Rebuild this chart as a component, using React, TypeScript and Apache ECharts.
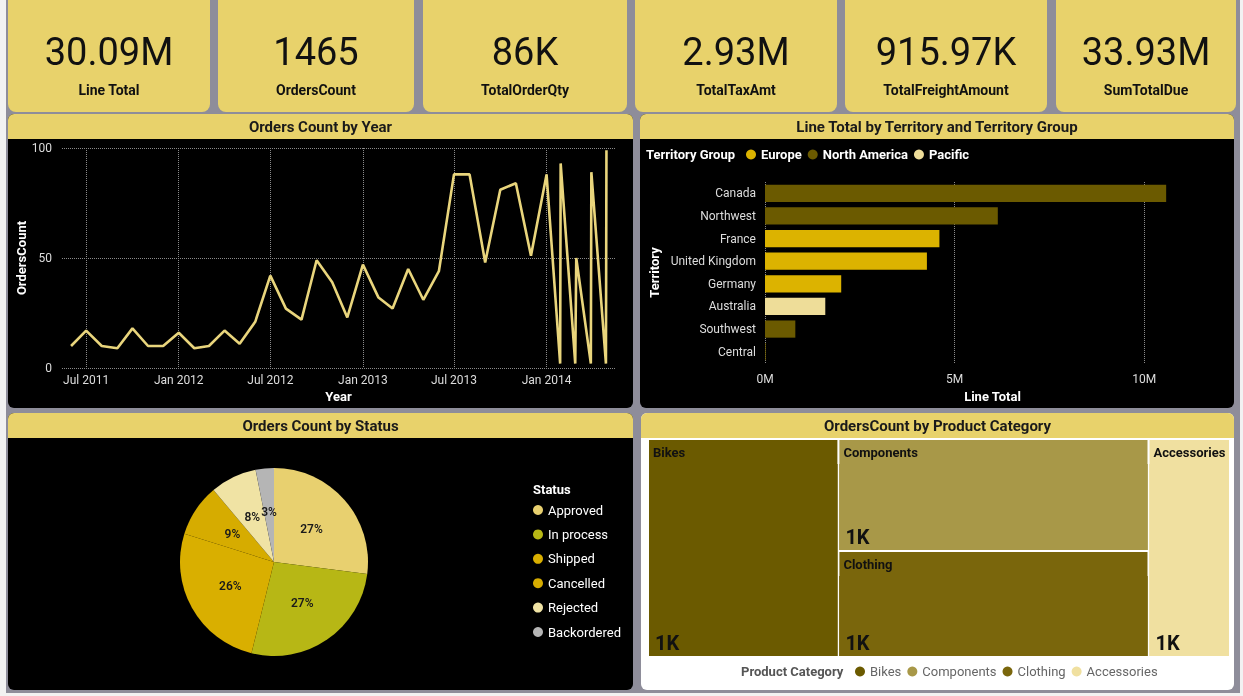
import React, { useEffect, useRef } from 'react';
import * as echarts from 'echarts';

// ---------- DATA ----------
const kpiValues = ['30.09M', '1465', '86K', '2.93M', '915.97K', '33.93M'];
const kpiLabels = ['Line Total', 'OrdersCount', 'TotalOrderQty', 'TotalTaxAmt', 'TotalFreightAmount', 'SumTotalDue'];

const orderDates = [
  '2011-06-01', '2011-07-01', '2011-08-01', '2011-09-01', '2011-10-01', '2011-11-01', '2011-12-01',
  '2012-01-01', '2012-02-01', '2012-03-01', '2012-04-01', '2012-05-01', '2012-06-01', '2012-07-01',
  '2012-08-01', '2012-09-01', '2012-10-01', '2012-11-01', '2012-12-01', '2013-01-01', '2013-02-01',
  '2013-03-01', '2013-04-01', '2013-05-01', '2013-06-01', '2013-07-01', '2013-08-01', '2013-09-01',
  '2013-10-01', '2013-11-01', '2013-12-01', '2014-01-01', '2014-01-28', '2014-01-29', '2014-02-27',
  '2014-03-01', '2014-03-30', '2014-03-31', '2014-04-29', '2014-04-30',
];
const orderCounts = [
  10, 17, 10, 9, 18, 10, 10,
  16, 9, 10, 17, 11, 21, 42,
  27, 22, 49, 39, 23, 47, 32,
  27, 45, 31, 44, 88, 88, 48,
  81, 84, 51, 88, 2, 93, 2,
  50, 2, 89, 2, 99,
];
const yearTickDates = ['2011-07-01', '2012-01-01', '2012-07-01', '2013-01-01', '2013-07-01', '2014-01-01'];
const yearAxisRange = ['2011-05-14', '2014-05-17'];

const territories = ['Canada', 'Northwest', 'France', 'United Kingdom', 'Germany', 'Australia', 'Southwest', 'Central'];
const territoryGroupOf = ['North America', 'North America', 'Europe', 'Europe', 'Europe', 'Pacific', 'North America', 'North America'];
const lineTotals = [10580000, 6140000, 4600000, 4270000, 2010000, 1590000, 800000, 20000];
const territoryGroups = ['Europe', 'North America', 'Pacific'];
const groupColors = ['#DCB300', '#6B5A00', '#EEDD99'];
const lineTotalTicks = [0, 5000000, 10000000];

const statuses = ['Approved', 'In process', 'Shipped', 'Cancelled', 'Rejected', 'Backordered'];
const statusCounts = [396, 393, 381, 132, 117, 46];
const statusColors = ['#E8D06F', '#B7B715', '#D9AF00', '#D6AC00', '#F0E3A4', '#B5B5B5'];

const categories = ['Bikes', 'Components', 'Clothing', 'Accessories'];
const categoryCounts = [1320, 1105, 1045, 565];
const categoryColors = ['#6B5A00', '#A89848', '#7A660C', '#F0E0A0'];

// ---------- HELPERS ----------
const MONTHS = ['Jan', 'Feb', 'Mar', 'Apr', 'May', 'Jun', 'Jul', 'Aug', 'Sep', 'Oct', 'Nov', 'Dec'];
const ts = (s: string) => {
  const [y, m, d] = s.split('-').map(Number);
  return new Date(y, m - 1, d).getTime();
};
const FONT = 'Roboto, "Noto Sans", sans-serif';
const YELLOW = '#E8D26B';

export default function App() {
  const ref = useRef<HTMLDivElement>(null);

  useEffect(() => {
    if (!ref.current) return;
    const chart = echarts.init(ref.current, undefined, { renderer: 'svg' });

    const g: any[] = [];
    g.push({ type: 'rect', silent: true, z: -20, shape: { x: 0, y: 0, width: 1243, height: 696 }, style: { fill: '#f2f2f2' } });
    g.push({ type: 'rect', silent: true, z: -19, shape: { x: 6, y: 0, width: 1234, height: 693 }, style: { fill: '#8E8D9A' } });

    const cardBoxes = [[8, 210], [218, 414], [423, 627], [635, 837], [845, 1047], [1056, 1236]];
    cardBoxes.forEach(([x0, x1], i) => {
      const cx = (x0 + x1) / 2;
      g.push({ type: 'rect', silent: true, z: -18, shape: { x: x0, y: -8, width: x1 - x0, height: 120, r: 8 }, style: { fill: YELLOW } });
      g.push({ type: 'text', silent: true, z: 5, style: { text: kpiValues[i], x: cx, y: 52, align: 'center', verticalAlign: 'middle', fill: '#111', fontSize: 38, fontFamily: FONT, fontWeight: 400 } });
      g.push({ type: 'text', silent: true, z: 5, style: { text: kpiLabels[i], x: cx, y: 90, align: 'center', verticalAlign: 'middle', fill: '#111', fontSize: 14, fontFamily: FONT, fontWeight: 'bold' } });
    });

    const panels = [
      { x: 8, y: 114, w: 625, h: 294, body: '#000', title: 'Orders Count by Year' },
      { x: 640, y: 114, w: 594, h: 294, body: '#000', title: 'Line Total by Territory and Territory Group' },
      { x: 8, y: 413, w: 625, h: 277, body: '#000', title: 'Orders Count by Status' },
      { x: 641, y: 413, w: 593, h: 277, body: '#fff', title: 'OrdersCount by Product Category' },
    ];
    panels.forEach((p) => {
      g.push({ type: 'rect', silent: true, z: -18, shape: { x: p.x, y: p.y, width: p.w, height: p.h, r: 6 }, style: { fill: p.body } });
      g.push({ type: 'rect', silent: true, z: -17, shape: { x: p.x, y: p.y, width: p.w, height: 25, r: [6, 6, 0, 0] }, style: { fill: YELLOW } });
      g.push({ type: 'text', silent: true, z: 5, style: { text: p.title, x: p.x + p.w / 2, y: p.y + 13, align: 'center', verticalAlign: 'middle', fill: '#1a1a1a', fontSize: 15, fontFamily: FONT, fontWeight: 'bold' } });
    });

    g.push({ type: 'text', silent: true, z: 5, style: { text: 'Territory Group', x: 646, y: 154, align: 'left', verticalAlign: 'middle', fill: '#fff', fontSize: 13, fontFamily: FONT, fontWeight: 'bold' } });
    g.push({ type: 'text', silent: true, z: 5, style: { text: 'Status', x: 533, y: 489, align: 'left', verticalAlign: 'middle', fill: '#fff', fontSize: 13, fontFamily: FONT, fontWeight: 'bold' } });
    g.push({ type: 'text', silent: true, z: 5, style: { text: 'Product Category', x: 741, y: 671, align: 'left', verticalAlign: 'middle', fill: '#555', fontSize: 13, fontFamily: FONT, fontWeight: 'bold' } });

    const yearTicks = yearTickDates.map(ts);

    const series: any[] = [];
    series.push({
      type: 'line',
      name: 'OrdersCount',
      xAxisIndex: 0,
      yAxisIndex: 0,
      data: orderDates.map((d, i) => [ts(d), orderCounts[i]]),
      showSymbol: false,
      symbol: 'none',
      lineStyle: { color: '#E9D57C', width: 2.6 },
      itemStyle: { color: '#E9D57C' },
      emphasis: { disabled: true },
    });
    territoryGroups.forEach((grp, gi) => {
      series.push({
        type: 'bar',
        name: grp,
        xAxisIndex: 1,
        yAxisIndex: 1,
        stack: 'territory',
        barCategoryGap: '24%',
        data: territories.map((_, i) => (territoryGroupOf[i] === grp ? lineTotals[i] : '-')),
        itemStyle: { color: groupColors[gi] },
        emphasis: { disabled: true },
      });
    });
    series.push({
      type: 'pie',
      name: 'Status',
      center: [274, 562],
      radius: 94,
      startAngle: 90,
      clockwise: true,
      avoidLabelOverlap: false,
      itemStyle: { borderWidth: 0 },
      label: {
        show: true,
        position: 'inside',
        formatter: (p: any) => Math.round(p.percent) + '%',
        color: '#1a1a1a',
        fontSize: 12,
        fontWeight: 600,
        fontFamily: FONT,
      },
      labelLine: { show: false },
      emphasis: { disabled: true },
      data: statuses.map((s, i) => ({ name: s, value: statusCounts[i], itemStyle: { color: statusColors[i] } })),
    });
    series.push({
      type: 'treemap',
      name: 'OrdersCount by Product Category',
      left: 649,
      top: 440,
      width: 580,
      height: 216,
      roam: false,
      nodeClick: false,
      breadcrumb: { show: false },
      data: categories.map((c, i) => ({
        name: c,
        value: categoryCounts[i],
        itemStyle: { color: categoryColors[i], borderColor: categoryColors[i] },
        children: [{ name: c, value: categoryCounts[i], itemStyle: { color: categoryColors[i], borderColor: categoryColors[i] } }],
      })),
      levels: [
        { itemStyle: { borderWidth: 0, gapWidth: 2, borderColor: '#fff' } },
        {
          itemStyle: { borderWidth: 0, gapWidth: 0 },
          upperLabel: {
            show: true,
            height: 24,
            padding: [0, 0, 0, 4],
            overflow: 'none',
            color: '#111',
            fontSize: 13,
            fontWeight: 'bold',
            fontFamily: FONT,
          },
        },
        {
          itemStyle: { borderWidth: 0, gapWidth: 0 },
          label: {
            show: true,
            position: 'insideBottomLeft',
            distance: 1,
            padding: [0, 0, 2, 5],
            formatter: (p: any) => Math.round(p.value / 1000) + 'K',
            color: '#111',
            fontSize: 20,
            fontWeight: 'bold',
            fontFamily: FONT,
          },
        },
      ],
    });
    categories.forEach((c, i) => {
      series.push({ type: 'scatter', name: c, xAxisIndex: 1, yAxisIndex: 1, data: [], itemStyle: { color: categoryColors[i], opacity: 1 } });
    });

    const option: any = {
      animation: false,
      backgroundColor: 'transparent',
      textStyle: { fontFamily: FONT },
      graphic: { elements: g },
      grid: [
        { left: 62, top: 148, width: 553, height: 220, outerBoundsMode: 'none', containLabel: false },
        { left: 765, top: 182, width: 455, height: 181, outerBoundsMode: 'none', containLabel: false },
      ],
      xAxis: [
        {
          type: 'value',
          gridIndex: 0,
          min: ts(yearAxisRange[0]),
          max: ts(yearAxisRange[1]),
          axisLine: { show: false },
          axisTick: { show: false, customValues: yearTicks },
          axisLabel: {
            customValues: yearTicks,
            color: '#dddddd',
            fontSize: 12,
            margin: 6,
            formatter: (v: number) => {
              const d = new Date(v);
              return MONTHS[d.getMonth()] + ' ' + d.getFullYear();
            },
          },
          splitLine: { show: true, lineStyle: { type: 'dotted', color: '#8a8a8a', width: 1 } },
          name: 'Year',
          nameLocation: 'middle',
          nameGap: 22,
          nameTextStyle: { color: '#fff', fontWeight: 'bold', fontSize: 13 },
        },
        {
          type: 'value',
          gridIndex: 1,
          min: 0,
          max: 12000000,
          interval: 5000000,
          axisLine: { show: false },
          axisTick: { show: false, customValues: lineTotalTicks },
          axisLabel: {
            customValues: lineTotalTicks,
            color: '#dddddd',
            fontSize: 12,
            margin: 10,
            formatter: (v: number) => Math.round(v / 1000000) + 'M',
          },
          splitLine: { show: true, lineStyle: { type: 'dotted', color: '#8a8a8a', width: 1 } },
          name: 'Line Total',
          nameLocation: 'middle',
          nameGap: 27,
          nameTextStyle: { color: '#fff', fontWeight: 'bold', fontSize: 13 },
        },
      ],
      yAxis: [
        {
          type: 'value',
          gridIndex: 0,
          min: 0,
          max: 100,
          interval: 50,
          axisLine: { show: false },
          axisTick: { show: false },
          axisLabel: { color: '#dddddd', fontSize: 12, margin: 10 },
          splitLine: { show: true, lineStyle: { type: 'dotted', color: '#8a8a8a', width: 1 } },
          name: 'OrdersCount',
          nameLocation: 'middle',
          nameGap: 33,
          nameTextStyle: { color: '#fff', fontWeight: 'bold', fontSize: 13 },
        },
        {
          type: 'category',
          gridIndex: 1,
          data: territories,
          inverse: true,
          axisLine: { show: false },
          axisTick: { show: false },
          axisLabel: { color: '#dddddd', fontSize: 12, margin: 9 },
          splitLine: { show: false },
          name: 'Territory',
          nameLocation: 'middle',
          nameGap: 104,
          nameTextStyle: { color: '#fff', fontWeight: 'bold', fontSize: 13 },
        },
      ],
      legend: [
        {
          data: territoryGroups,
          left: 746,
          top: 148,
          padding: 0,
          orient: 'horizontal',
          icon: 'circle',
          itemWidth: 10,
          itemHeight: 10,
          itemGap: 6,
          selectedMode: false,
          textStyle: { color: '#fff', fontWeight: 'bold', fontSize: 13, fontFamily: FONT },
        },
        {
          data: statuses,
          left: 533,
          top: 500,
          padding: 0,
          orient: 'vertical',
          icon: 'circle',
          itemWidth: 10,
          itemHeight: 10,
          itemGap: 4.4,
          selectedMode: false,
          textStyle: { color: '#fff', fontSize: 13, lineHeight: 20, fontFamily: FONT },
        },
        {
          data: categories,
          left: 855,
          top: 665,
          padding: 0,
          orient: 'horizontal',
          icon: 'circle',
          itemWidth: 10,
          itemHeight: 10,
          itemGap: 6,
          selectedMode: false,
          textStyle: { color: '#666', fontSize: 13, fontFamily: FONT },
        },
      ],
      series,
    };

    chart.setOption(option);
    return () => chart.dispose();
  }, []);

  return <div ref={ref} style={{ position: 'fixed', left: 0, top: 0, width: 1243, height: 696 }} />;
}
